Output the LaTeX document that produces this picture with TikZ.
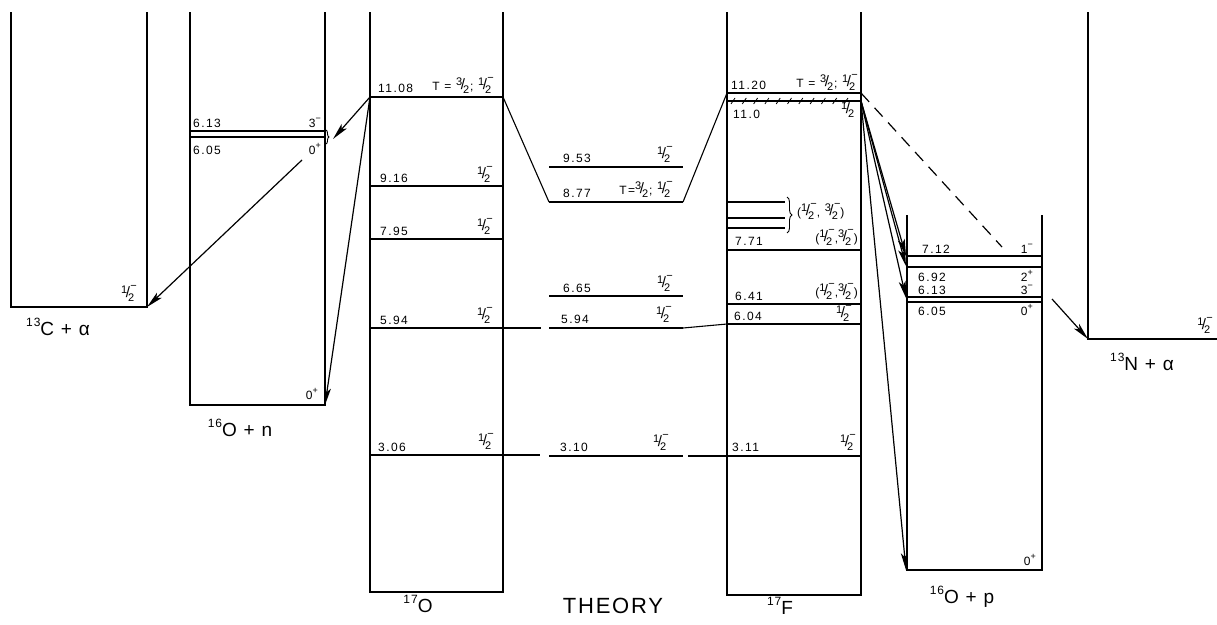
\documentclass[tikz,border=0pt]{standalone}
\usepackage{fontspec}
\setmainfont{Liberation Sans}
\newfontfamily\levfont[LetterSpace=12]{Liberation Sans}
\newfontfamily\bigfont[LetterSpace=8]{Liberation Sans}
\newfontfamily\thfont[LetterSpace=8]{Liberation Sans}
\usetikzlibrary{arrows.meta,decorations.pathreplacing}
\newcommand\fr[3]{{\fontsize{11}{11}\selectfont\raisebox{0.42em}{#1}\kern-0.14em\raisebox{0.02em}{\fontsize{15}{15}\selectfont/}\kern-0.17em\raisebox{-0.3em}{#2}\kern-0.35em\raisebox{0.78em}{#3}}}
\newcommand\pa[2]{#1\raisebox{0.5em}{\fontsize{9}{9}\selectfont #2}}
\newcommand\iso[2]{\raisebox{0.45em}{\fontsize{12}{12}\selectfont #1}#2}
\begin{document}
\begin{tikzpicture}[x=1pt,y=-1pt,
  lvl/.style={line width=1.1pt},
  boxl/.style={line width=1.1pt},
  lab/.style={font=\levfont\fontsize{12}{12}\selectfont, inner sep=0pt},
  big/.style={font=\bigfont\fontsize{19}{20}\selectfont, inner sep=0pt},
  arr/.style={line width=1.2pt, -{Stealth[length=17pt,width=7pt,inset=4pt]}},
  dsh/.style={line width=1.2pt, dash pattern=on 12pt off 8pt}]
\useasboundingbox (0,0) rectangle (1217,624);
\fill[white] (0,0) rectangle (1217,624);
% ---------- 13C + alpha
\draw[boxl] (11,12) -- (11,307) -- (147,307) -- (147,12);
\coordinate (cC) at (147,307);
\node[lab, anchor=base east] (c1) at (137,298) {\fr{1}{2}{−}};
\node[big] (cL) at (58,327) {\iso{13}{C} + α};
% ---------- 16O + n
\draw[boxl] (190,12) -- (190,405) -- (325,405) -- (325,12);
\coordinate (nC) at (325,405);
\draw[lvl] (190,131) -- (325,131);
\draw[lvl] (190,137) -- (325,137);
\draw[line width=0.9pt, decorate, decoration={brace,amplitude=3pt}] (326,130) -- (326,144);
\node[lab, anchor=base west] (n1) at (193,127) {6.13};
\node[lab, anchor=base east] (n2) at (321,127) {\pa{3}{−}};
\node[lab, anchor=base west] (n3) at (193,154) {6.05};
\node[lab, anchor=base east] (n4) at (321,154) {\pa{0}{+}};
\node[lab, anchor=base east] (n5) at (318,399) {\pa{0}{+}};
\node[big] (nL) at (240,428) {\iso{16}{O} + n};
% ---------- 17O
\draw[boxl] (370,12) -- (370,592) -- (503,592) -- (503,12);
\coordinate (oA) at (370,97);
\coordinate (oB) at (503,97);
\draw[lvl] (370,97) -- (503,97);
\draw[lvl] (370,186) -- (503,186);
\draw[lvl] (370,239) -- (503,239);
\draw[lvl] (370,328) -- (541,328);
\draw[lvl] (370,455) -- (540,455);
\node[lab, anchor=base west] (o1) at (378,92) {11.08};
\node[lab, anchor=base east] (o1r) at (494,90) {T = \fr{3}{2}{} ; \fr{1}{2}{−}};
\node[lab, anchor=base west] (o2) at (380,182) {9.16};
\node[lab, anchor=base east] (o2r) at (493,179) {\fr{1}{2}{−}};
\node[lab, anchor=base west] (o3) at (380,235) {7.95};
\node[lab, anchor=base east] (o3r) at (493,231) {\fr{1}{2}{−}};
\node[lab, anchor=base west] (o4) at (380,324) {5.94};
\node[lab, anchor=base east] (o4r) at (493,320) {\fr{1}{2}{−}};
\node[lab, anchor=base west] (o5) at (378,451) {3.06};
\node[lab, anchor=base east] (o5r) at (494,446) {\fr{1}{2}{−}};
\node[big] (oL) at (418,604) {\iso{17}{O}};
% ---------- Theory
\coordinate (t877a) at (549,202);
\coordinate (t877b) at (683,202);
\draw[lvl] (549,167) -- (683,167);
\draw[lvl] (t877a) -- (t877b);
\draw[lvl] (549,296) -- (683,296);
\draw[lvl] (549,328) -- (683,328);
\draw[lvl] (549,456) -- (683,456);
\node[lab, anchor=base west] (t1) at (563,162) {9.53};
\node[lab, anchor=base east] (t1r) at (673,159) {\fr{1}{2}{−}};
\node[lab, anchor=base west] (t2) at (563,197) {8.77};
\node[lab, anchor=base east] (t2r) at (673,194) {T=\fr{3}{2}{} ; \fr{1}{2}{−}};
\node[lab, anchor=base west] (t3) at (563,292) {6.65};
\node[lab, anchor=base east] (t3r) at (673,288) {\fr{1}{2}{−}};
\node[lab, anchor=base west] (t4) at (561,323) {5.94};
\node[lab, anchor=base east] (t4r) at (672,319) {\fr{1}{2}{−}};
\node[lab, anchor=base west] (t5) at (560,451) {3.10};
\node[lab, anchor=base east] (t5r) at (669,447) {\fr{1}{2}{−}};
\node[font=\thfont\fontsize{22}{22}\selectfont, inner sep=0pt] (tL) at (613,606) {THEORY};
% ---------- 17F
\draw[boxl] (727,12) -- (727,595) -- (861,595) -- (861,12);
\coordinate (fA) at (727,93);
\coordinate (fB) at (861,93);
\coordinate (fH) at (861,101);
\draw[lvl] (fA) -- (fB);
\draw[lvl] (727,101) -- (861,101);
\foreach \x in {733,744.3,...,857} \draw[line width=0.8pt] (\x-2,104) -- (\x+2,98);
\draw[lvl] (727,202) -- (785,202);
\draw[lvl] (727,218) -- (785,218);
\draw[lvl] (727,228) -- (785,228);
\draw[line width=0.9pt, decorate, decoration={brace,amplitude=5pt}] (787,197) -- (787,233);
\draw[lvl] (727,250) -- (861,250);
\draw[lvl] (727,304) -- (861,304);
\draw[lvl] (727,324) -- (861,324);
\draw[lvl] (688,456) -- (861,456);
\node[lab, anchor=base west] (f1) at (731,89) {11.20};
\node[lab, anchor=base east] (f1r) at (858,87) {T = \fr{3}{2}{} ; \fr{1}{2}{−}};
\node[lab, anchor=base west] (f2) at (733,118) {11.0};
\node[lab, anchor=base east] (f2r) at (857,114) {\fr{1}{2}{−}};
\node[lab, anchor=base west] (f3) at (797,216) {(\fr{1}{2}{−}, \fr{3}{2}{−})};
\node[lab, anchor=base west] (f4) at (735,245) {7.71};
\node[lab, anchor=base east] (f4r) at (858,242) {(\fr{1}{2}{−},\fr{3}{2}{−})};
\node[lab, anchor=base west] (f5) at (735,300) {6.41};
\node[lab, anchor=base east] (f5r) at (858,296) {(\fr{1}{2}{−},\fr{3}{2}{−})};
\node[lab, anchor=base west] (f6) at (734,320) {6.04};
\node[lab, anchor=base east] (f6r) at (852,318) {\fr{1}{2}{−}};
\node[lab, anchor=base west] (f7) at (732,451) {3.11};
\node[lab, anchor=base east] (f7r) at (856,447) {\fr{1}{2}{−}};
\node[big] (fL) at (780,606) {\iso{17}{F}};
% ---------- 16O + p
\draw[boxl] (907,215) -- (907,570) -- (1042,570) -- (1042,215);
\draw[lvl] (907,256) -- (1042,256);
\draw[lvl] (907,267) -- (1042,267);
\draw[lvl] (907,297) -- (1042,297);
\draw[lvl] (907,302) -- (1042,302);
\coordinate (p712) at (906,256);
\coordinate (p692) at (906,266);
\coordinate (p613) at (906,298);
\coordinate (pC) at (906,570);
\coordinate (pD) at (1002,247);
\node[lab, anchor=base west] (p1) at (922,253) {7.12};
\node[lab, anchor=base east] (p1r) at (1033,253) {\pa{1}{−}};
\node[lab, anchor=base west] (p2) at (918,281) {6.92};
\node[lab, anchor=base east] (p2r) at (1033,281) {\pa{2}{+}};
\node[lab, anchor=base west] (p3) at (918,294) {6.13};
\node[lab, anchor=base east] (p3r) at (1033,294) {\pa{3}{−}};
\node[lab, anchor=base west] (p4) at (918,315) {6.05};
\node[lab, anchor=base east] (p4r) at (1033,315) {\pa{0}{+}};
\node[lab, anchor=base east] (p5) at (1036,565) {\pa{0}{+}};
\node[big] (pL) at (962,597) {\iso{16}{O} + p};
% ---------- 13N + alpha
\draw[boxl] (1088,12) -- (1088,339) -- (1217,339);
\coordinate (aC) at (1088,339);
\coordinate (aS) at (1052,299);
\node[lab, anchor=base east] (a1) at (1213,330) {\fr{1}{2}{−}};
\node[big] (aL) at (1142,362) {\iso{13}{N} + α};
% ---------- connectors
\draw[lvl] (oB) -- (t877a);
\draw[lvl] (t877b) -- (fA);
\draw[lvl] (683,328) -- (727,324);
\coordinate (nS) at (302,160);
\coordinate (nB) at (333,139);
\draw[arr] (oA) -- (nB);
\draw[arr] (oA) -- (nC);
\draw[arr] (nS) -- (cC);
\draw[arr] (fH) -- (p712);
\draw[arr] (fH) -- (p692);
\draw[arr] (fH) -- (p613);
\draw[arr] (fH) -- (pC);
\draw[dsh] (fB) -- (pD);
\draw[arr] (aS) -- (aC);
\end{tikzpicture}
\end{document}
